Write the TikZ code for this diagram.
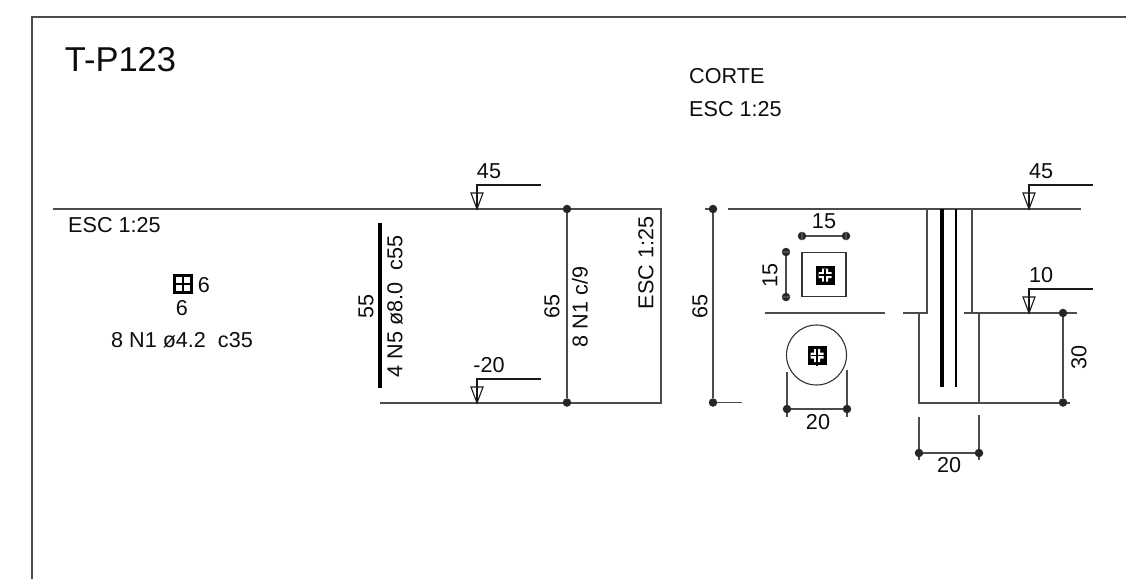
\documentclass[tikz,border=0pt]{standalone}
\usepackage{fontspec}
\setmainfont{Liberation Sans}
\usetikzlibrary{positioning}

\tikzset{
	wire/.style={draw=black!70,line width=1.1pt},
	rebar/.style={draw=black,line width=3.2pt},
	dimdot/.style={circle,fill=black!85,inner sep=0pt,minimum size=8.5pt},
	txt/.style={inner sep=0pt,text=black!95,font=\fontsize{21.6}{21.6}\selectfont},
	level/.style={draw=black!90,line width=1.1pt},
}

\newcommand{\levelmark}[4]{% name, x, base y, label
	\coordinate (#1base) at (#2,#3);
	\coordinate (#1top) at (#2,#3-24);
	\coordinate (#1end) at (#2+64,#3-24);
	\coordinate (#1l) at (#2-6,#3-16);
	\coordinate (#1r) at (#2+6,#3-16);
	\draw[level] (#1base) -- (#1top) -- (#1end);
	\draw[level] (#1l) -- (#1r) -- (#1base) -- cycle;
	\node[txt] (#1lab) at (#2+12,#3-38) {#4};
}

\newcommand{\barmark}[3]{% name, x, y
	\node[fill=black,minimum size=19pt,inner sep=0pt] (#1) at (#2,#3) {};
	\fill[white] (#2-6.5,#3-3) rectangle (#2+6.5,#3+3) (#2-3,#3-6.5) rectangle (#2+3,#3+6.5);
	\draw[black,line width=1.3pt] (#2-6.5,#3) -- (#2+10,#3) (#2,#3-6.5) -- (#2,#3+10);
}

\begin{document}
\begin{tikzpicture}[x=1pt,y=-1pt]
\useasboundingbox (0,0) rectangle (1126,579);

% frame
\coordinate (frameA) at (32,579);
\coordinate (frameB) at (32,17);
\coordinate (frameC) at (1126,17);
\draw[wire] (frameA) -- (frameB) -- (frameC);

\node[txt,font=\fontsize{34.5}{34.5}\selectfont] (title) at (120.5,60) {T-P123};
\node[txt,anchor=west] (corte) at (689,76) {CORTE};
\node[txt,anchor=west] (corteesc) at (689,109) {ESC 1:25};

% left detail
\node[txt,anchor=west] (leftesc) at (68,225) {ESC 1:25};
\node[draw=black,line width=2.6pt,minimum size=16.5pt,inner sep=0pt] (stirrup) at (183,284) {};
\draw[black,line width=2.2pt] (stirrup.north) -- (stirrup.south) (stirrup.west) -- (stirrup.east);
\node[txt] (sixa) at (204,285) {6};
\node[txt] (sixb) at (182,308) {6};
\node[txt] (stirruplab) at (182,340) {8 N1 ø4.2\ \ c35};

% elevation
\coordinate (topA) at (53,209);
\coordinate (topB) at (661,209);
\coordinate (botA) at (380,403);
\coordinate (botB) at (661,403);
\draw[wire] (topA) -- (topB) -- (botB) -- (botA);
\node[dimdot] (dimA) at (567,209) {};
\node[dimdot] (dimB) at (567,402.5) {};
\draw[wire] (dimA) -- (dimB);
\coordinate (barA) at (380,223);
\coordinate (barB) at (380,388);
\draw[rebar] (barA) -- (barB);
\node[txt,rotate=90] (lenbar) at (366,306) {55};
\node[txt,rotate=90] (barlab) at (395,306.5) {4 N5 ø8.0\ \ c55};
\node[txt,rotate=90] (lenstir) at (552,306) {65};
\node[txt,rotate=90] (stirlab) at (580,307) {8 N1 c/9};
\node[txt,rotate=90] (elevesc) at (646,263) {ESC 1:25};
\levelmark{lva}{477}{209}{45}
\levelmark{lvb}{477}{403}{-20}

% total height
\node[dimdot] (totA) at (713,209) {};
\node[dimdot] (totB) at (713,402.5) {};
\coordinate (totAl) at (705,209);
\coordinate (totBr) at (742,402.5);
\draw[wire] (totAl) -- (totA) -- (totB) -- (totBr);
\node[txt,rotate=90] (totlab) at (700,306) {65};

% sections
\node[draw=black!80,line width=1.1pt,minimum size=44pt,inner sep=0pt] (sqsec) at (824,274.5) {};
\barmark{sqbar}{825}{275}
\node[dimdot] (sqwA) at (802,236) {};
\node[dimdot] (sqwB) at (846,236) {};
\draw[wire] (sqwA) -- (sqwB);
\draw[wire] (sqwA.north) -- (sqwA.south) (sqwB.north) -- (sqwB.south);
\node[txt] (sqwlab) at (824,221) {15};
\node[dimdot] (sqhA) at (786,252) {};
\node[dimdot] (sqhB) at (786,297) {};
\draw[wire] (sqhA) -- (sqhB);
\draw[wire] (sqhA.west) -- (sqhA.east) (sqhB.west) -- (sqhB.east);
\node[txt,rotate=90] (sqhlab) at (770,275) {15};
\coordinate (midA) at (765,313);
\coordinate (midB) at (885,313);
\draw[wire] (midA) -- (midB);
\node[circle,draw=black!80,line width=1.1pt,minimum size=60pt,inner sep=0pt] (circsec) at (816.5,355) {};
\barmark{circbar}{817}{355.5}
\coordinate (cirA) at (787,372);
\coordinate (cirAe) at (787,417);
\coordinate (cirB) at (847,370);
\coordinate (cirBe) at (847,417);
\draw[wire] (cirA) -- (cirAe) (cirB) -- (cirBe);
\node[dimdot] (cirdA) at (787,409) {};
\node[dimdot] (cirdB) at (847,409) {};
\draw[wire] (cirdA) -- (cirdB);
\node[txt] (cirlab) at (818,422) {20};

% longitudinal section
\coordinate (toplineA) at (728,209);
\coordinate (toplineB) at (1081,209);
\draw[wire] (toplineA) -- (toplineB);
\coordinate (colLt) at (927,209);
\coordinate (colLb) at (927,313);
\coordinate (colRt) at (972,209);
\coordinate (colRb) at (972,313);
\coordinate (ledgeL) at (903,313);
\coordinate (ledgeR) at (964,313);
\coordinate (ledgeE) at (1077,313);
\coordinate (footLt) at (919,313);
\coordinate (footLb) at (919,403);
\coordinate (footRt) at (979,313);
\coordinate (footRb) at (979,403);
\coordinate (footE) at (1070,403);
\draw[wire] (ledgeL) -- (colLb) -- (colLt);
\draw[wire] (colRt) -- (colRb);
\draw[wire] (ledgeR) -- (ledgeE);
\draw[wire] (footLt) -- (footLb) -- (footE);
\draw[wire] (footRt) -- (footRb);
\coordinate (rodAt) at (942,209);
\coordinate (rodAb) at (942,387);
\coordinate (rodBt) at (956,209);
\coordinate (rodBb) at (956,387);
\draw[rebar] (rodAt) -- (rodAb);
\draw[rebar,line width=2.8pt] (rodBt) -- (rodBb);
\levelmark{lvc}{1029}{209}{45}
\levelmark{lvd}{1029}{313}{10}
\node[dimdot] (ftA) at (1063,313) {};
\node[dimdot] (ftB) at (1063,402.5) {};
\draw[wire] (ftA) -- (ftB);
\node[txt,rotate=90] (ftlab) at (1079,357) {30};
\coordinate (wLt) at (919,417);
\coordinate (wLb) at (919,460);
\coordinate (wRt) at (979,415);
\coordinate (wRb) at (979,460);
\draw[wire] (wLt) -- (wLb) (wRt) -- (wRb);
\node[dimdot] (wdA) at (919,453) {};
\node[dimdot] (wdB) at (979,453) {};
\draw[wire] (wdA) -- (wdB);
\node[txt] (wlab) at (949,465) {20};

\end{tikzpicture}
\end{document}
